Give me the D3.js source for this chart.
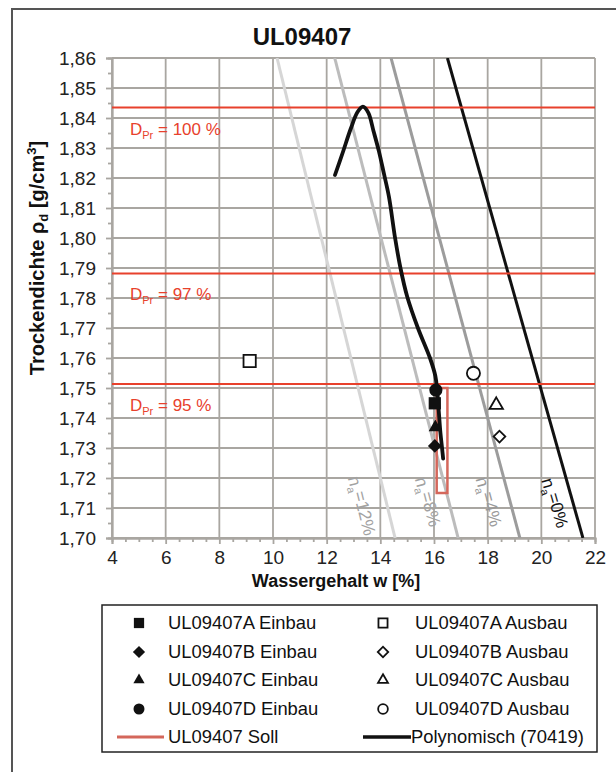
<!DOCTYPE html>
<html>
<head>
<meta charset="utf-8">
<script src="https://cdn.jsdelivr.net/npm/d3@7/dist/d3.min.js"></script>
<style>
  html, body { margin: 0; padding: 0; background: #fff; }
  svg { display: block; font-family: "Liberation Sans", Arial, sans-serif; }
</style>
</head>
<body>
<svg id="chart" width="616" height="772"></svg>
<script>
// Proctor curve of sample UL09407 with installation / removal measurements

const xTicks = [4, 6, 8, 10, 12, 14, 16, 18, 20, 22];
const yTicks = [1.70, 1.71, 1.72, 1.73, 1.74, 1.75, 1.76, 1.77, 1.78, 1.79, 1.80, 1.81, 1.82, 1.83, 1.84, 1.85, 1.86];

// Polynomial fit (Proctor curve), water content [%] and dry density [g/cm3]
const polyW   = [12.31, 12.6, 12.9, 13.15, 13.35, 13.55, 13.75, 13.95, 14.13, 14.32, 14.55, 14.75, 15.0, 15.4, 15.85, 16.05, 16.12, 16.18, 16.24, 16.3, 16.34];
const polyRho = [1.821, 1.8285, 1.8365, 1.842, 1.8438, 1.8418, 1.8355, 1.8288, 1.8216, 1.8138, 1.800, 1.790, 1.7805, 1.770, 1.760, 1.754, 1.749, 1.742, 1.735, 1.730, 1.7265];

// Compaction levels D_Pr
const dprLabels = ["100", "97", "95"];
const dprRho    = [1.8435, 1.7882, 1.7513];

// Air-void lines n_a: water content at rho = 1.86 and rho = 1.70
const naLabels  = ["0%", "4%", "8%", "12%"];
const naWTop    = [16.5, 14.4, 12.3, 10.15];
const naWBottom = [21.55, 19.2, 16.9, 14.55];

// Samples
const sampleIds  = ["A", "B", "C", "D"];
const einbauW    = [16.03, 16.03, 16.05, 16.07];
const einbauRho  = [1.7449, 1.7307, 1.7369, 1.7493];
const ausbauW    = [9.13, 18.44, 18.32, 17.47];
const ausbauRho  = [1.759, 1.7338, 1.7443, 1.7549];

// Target range (Soll)
const sollW   = [16.1, 16.5];
const sollRho = [1.715, 1.750];

const svg = d3.select("#chart");

// outer frame
svg.append("rect").attr("x", 12).attr("y", 9).attr("width", 700).attr("height", 800)
  .attr("fill", "none").attr("stroke", "#555").attr("stroke-width", 2);

const x = d3.scaleLinear().domain([4, 22]).range([112, 595]);
const y = d3.scaleLinear().domain([1.70, 1.86]).range([538, 58]);

const gridColor = "#a9a6a1";

// clip region for the plotted lines
svg.append("clipPath").attr("id", "plotClip")
  .append("rect").attr("x", x(4)).attr("y", y(1.86)).attr("width", x(22) - x(4)).attr("height", y(1.70) - y(1.86));

// grid
const grid = svg.append("g");
grid.selectAll("line.gx").data(xTicks).join("line")
  .attr("x1", d => x(d)).attr("x2", d => x(d)).attr("y1", y(1.86)).attr("y2", y(1.70))
  .attr("stroke", gridColor).attr("stroke-width", 1.8);
grid.selectAll("line.gy").data(yTicks).join("line")
  .attr("x1", x(4)).attr("x2", x(22)).attr("y1", d => y(d)).attr("y2", d => y(d))
  .attr("stroke", gridColor).attr("stroke-width", 1.8);

// axes
const fmt = d => d.toFixed(2).replace(".", ",");
const yAxis = svg.append("g").attr("transform", `translate(${x(4)},0)`)
  .call(d3.axisLeft(y).tickValues(yTicks).tickSize(6).tickPadding(10).tickFormat(fmt));
const yMinor = svg.append("g").attr("transform", `translate(${x(4)},0)`)
  .call(d3.axisLeft(y).tickValues(d3.range(16).map(i => yTicks[i] + 0.005)).tickSize(4).tickFormat(""));
const xAxis = svg.append("g").attr("transform", `translate(0,${y(1.70)})`)
  .call(d3.axisBottom(x).tickValues(xTicks).tickSize(6).tickPadding(7).tickFormat(d3.format("d")));
const xMinor = svg.append("g").attr("transform", `translate(0,${y(1.70)})`)
  .call(d3.axisBottom(x).tickValues(d3.range(4, 22, 0.5).filter(v => v % 2 !== 0)).tickSize(4).tickFormat(""));
[yAxis, yMinor, xAxis, xMinor].forEach(g => {
  g.select(".domain").attr("stroke", gridColor).attr("stroke-width", 1.8);
  g.selectAll(".tick line").attr("stroke", gridColor).attr("stroke-width", 1.8);
  g.selectAll("text").attr("font-size", 19).attr("fill", "#222")
    .attr("font-family", "'Liberation Sans', Arial, sans-serif");
});

// air-void lines
const naColors = ["#111", "#9c9c9c", "#bcbcbc", "#d6d6d6"];
const lines = svg.append("g").attr("clip-path", "url(#plotClip)");
naLabels.forEach((lab, i) => {
  lines.append("line")
    .attr("x1", x(naWTop[i])).attr("y1", y(1.86))
    .attr("x2", x(naWBottom[i])).attr("y2", y(1.70))
    .attr("stroke", naColors[i]).attr("stroke-width", 3);
});

// air-void labels, running along each line
const naLabelCol = ["#111", "#9a9a9a", "#a2a2a2", "#a2a2a2"];
const naLabelPos = [[554, 503], [488, 502], [427, 502], [361, 506]];
naLabels.forEach((lab, i) => {
  const ang = Math.atan2(y(1.70) - y(1.86), x(naWBottom[i]) - x(naWTop[i])) * 180 / Math.PI;
  const t = svg.append("text")
    .attr("transform", `translate(${naLabelPos[i][0]},${naLabelPos[i][1]}) rotate(${ang})`)
    .attr("text-anchor", "middle").attr("dy", "0.35em")
    .attr("font-size", 17.5).attr("fill", naLabelCol[i]);
  t.append("tspan").text("n");
  t.append("tspan").attr("font-size", 11).attr("dy", "0.3em").text("a");
  t.append("tspan").attr("dy", "-0.3em").text("=" + lab);
});

// D_Pr lines
const red = "#e8412c";
dprRho.forEach((r, i) => {
  svg.append("line").attr("x1", x(4)).attr("x2", x(22)).attr("y1", y(r)).attr("y2", y(r))
    .attr("stroke", red).attr("stroke-width", 2);
  const t = svg.append("text").attr("x", 130).attr("y", y(r) + 27)
    .attr("font-size", 17).attr("fill", red);
  t.append("tspan").text("D");
  t.append("tspan").attr("font-size", 11).attr("dy", 4).text("Pr");
  t.append("tspan").attr("dy", -4).text(" = " + dprLabels[i] + " %");
});

// Soll range
svg.append("rect")
  .attr("x", x(sollW[0])).attr("y", y(sollRho[1]))
  .attr("width", x(sollW[1]) - x(sollW[0])).attr("height", y(sollRho[0]) - y(sollRho[1]))
  .attr("fill", "none").attr("stroke", "#d4675b").attr("stroke-width", 2.5);

// Proctor curve
const polyLine = d3.line().x(d => x(d[0])).y(d => y(d[1])).curve(d3.curveCatmullRom.alpha(0.5));
svg.append("path").attr("clip-path", "url(#plotClip)")
  .datum(polyW.map((w, i) => [w, polyRho[i]]))
  .attr("d", polyLine).attr("fill", "none").attr("stroke", "#111").attr("stroke-width", 3.8)
  .attr("stroke-linecap", "round").attr("stroke-linejoin", "round");

// markers: square, diamond (rotated square), triangle, circle
const symTypes = [d3.symbolSquare, d3.symbolSquare, d3.symbolTriangle, d3.symbolCircle];
const symRot   = [0, 45, 0, 0];
const symSize  = [150, 68, 78, 135];
function marker(g, i, cx, cy, filled, scale) {
  g.append("path")
    .attr("d", d3.symbol().type(symTypes[i]).size(symSize[i] * scale)())
    .attr("transform", `translate(${cx},${cy}) rotate(${symRot[i]})`)
    .attr("fill", filled ? "#111" : "#fff")
    .attr("stroke", "#111").attr("stroke-width", filled ? 0 : 1.8);
}
const marks = svg.append("g");
sampleIds.forEach((id, i) => marker(marks, i, x(ausbauW[i]), y(ausbauRho[i]), false, 1));
// installation markers drawn in order D, A, C, B
[3, 0, 2, 1].forEach(i => marker(marks, i, x(einbauW[i]), y(einbauRho[i]), true, i === 1 ? 1.4 : 1));

// title and axis titles
svg.append("text").attr("x", 302).attr("y", 45).attr("text-anchor", "middle")
  .attr("font-size", 24).attr("font-weight", "bold").attr("fill", "#111").text("UL09407");
svg.append("text").attr("x", 336).attr("y", 587).attr("text-anchor", "middle")
  .attr("font-size", 18).attr("font-weight", "bold").attr("fill", "#111").text("Wassergehalt w [%]");
const yt = svg.append("text").attr("transform", "translate(44,258) rotate(-90)")
  .attr("text-anchor", "middle").attr("font-size", 20).attr("font-weight", "bold").attr("fill", "#111");
yt.append("tspan").text("Trockendichte ρ");
yt.append("tspan").attr("font-size", 13).attr("dy", 4).text("d");
yt.append("tspan").attr("dy", -4).text(" [g/cm");
yt.append("tspan").attr("font-size", 13).attr("dy", -8).text("3");
yt.append("tspan").attr("dy", 8).text("]");

// legend
const legend = svg.append("g");
legend.append("rect").attr("x", 102).attr("y", 605).attr("width", 495).attr("height", 147)
  .attr("fill", "#fff").attr("stroke", "#222").attr("stroke-width", 1.5);
const rowY = [623, 652, 680, 709, 737];
const legFont = 18.4;
sampleIds.forEach((id, i) => {
  marker(legend, i, 139, rowY[i], true, i === 1 ? 1.1 : 0.7);
  legend.append("text").attr("x", 168).attr("y", rowY[i]).attr("dy", "0.35em")
    .attr("font-size", legFont).attr("fill", "#111").text(`UL09407${id} Einbau`);
  marker(legend, i, 383, rowY[i], false, i === 1 ? 0.8 : 0.55);
  legend.append("text").attr("x", 415).attr("y", rowY[i]).attr("dy", "0.35em")
    .attr("font-size", legFont).attr("fill", "#111").text(`UL09407${id} Ausbau`);
});
legend.append("line").attr("x1", 117).attr("x2", 164).attr("y1", rowY[4]).attr("y2", rowY[4])
  .attr("stroke", "#d4675b").attr("stroke-width", 3);
legend.append("text").attr("x", 168).attr("y", rowY[4]).attr("dy", "0.35em")
  .attr("font-size", legFont).attr("fill", "#111").text("UL09407 Soll");
legend.append("line").attr("x1", 363).attr("x2", 411).attr("y1", rowY[4]).attr("y2", rowY[4])
  .attr("stroke", "#111").attr("stroke-width", 3.5);
legend.append("text").attr("x", 411).attr("y", rowY[4]).attr("dy", "0.35em")
  .attr("font-size", legFont).attr("fill", "#111").text("Polynomisch (70419)");
</script>
</body>
</html>
